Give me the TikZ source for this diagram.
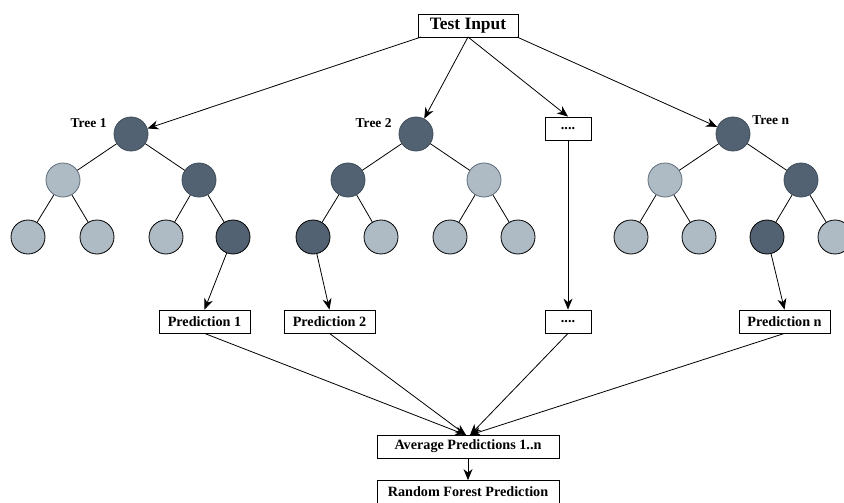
\documentclass[tikz,border=0pt]{standalone}
\usepackage{fontspec}
\setmainfont{Liberation Serif}
\usetikzlibrary{arrows.meta}
\definecolor{darkn}{HTML}{526272}
\definecolor{lightn}{HTML}{AEBAC4}
\definecolor{edgeup}{HTML}{3E4C59}
\begin{document}
\begin{tikzpicture}[x=1pt,y=-1pt,
  every path/.style={line width=0.8pt},
  tip/.style={-{Stealth[length=11pt,width=9pt,inset=3.5pt]}},
  nd/.style={circle,minimum size=34pt,inner sep=0pt,line width=0.8pt},
  darkup/.style={nd,fill=darkn,draw=edgeup},
  lightup/.style={nd,fill=lightn,draw=edgeup!70!lightn},
  darklow/.style={nd,fill=darkn,draw=black},
  lightlow/.style={nd,fill=lightn,draw=black},
  box/.style={draw,fill=white,inner sep=0pt,minimum height=23pt,font=\bfseries\fontsize{14.2}{16}\selectfont},
  lbl/.style={inner sep=0pt,font=\bfseries\fontsize{13.5}{15}\selectfont}]
\useasboundingbox (0,0) rectangle (844,503);

% input
\node[box,minimum width=100pt,font=\bfseries\fontsize{17.4}{19}\selectfont] (in) at (468,25.5) {Test Input};

% Tree 1
\node[darkup] (a0) at (131,134) {};
\node[lightup] (a1) at (63,180) {};
\node[darkup] (a2) at (199,180) {};
\node[lightlow] (a3) at (28,237) {};
\node[lightlow] (a4) at (97,237) {};
\node[lightlow] (a5) at (166,237) {};
\node[darklow] (a6) at (233,237) {};
\draw (a0)--(a1) (a0)--(a2) (a1)--(a3) (a1)--(a4) (a2)--(a5) (a2)--(a6);
\node[lbl,anchor=east] (la) at (107,123) {Tree 1};

% Tree 2
\node[darkup] (b0) at (416,134) {};
\node[darkup] (b1) at (348,180) {};
\node[lightup] (b2) at (484,180) {};
\node[darklow] (b3) at (313,237) {};
\node[lightlow] (b4) at (381,237) {};
\node[lightlow] (b5) at (450,237) {};
\node[lightlow] (b6) at (518,237) {};
\draw (b0)--(b1) (b0)--(b2) (b1)--(b3) (b1)--(b4) (b2)--(b5) (b2)--(b6);
\node[lbl,anchor=east] (lb) at (392,123) {Tree 2};

% dots column
\node[box,minimum width=46pt] (d1) at (568,128.5) {....};

% Tree n
\node[darkup] (c0) at (733,134) {};
\node[lightup] (c1) at (665,180) {};
\node[darkup] (c2) at (801,180) {};
\node[lightlow] (c3) at (631,237) {};
\node[lightlow] (c4) at (699,237) {};
\node[darklow] (c5) at (767,237) {};
\node[lightlow] (c6) at (835,237) {};
\draw (c0)--(c1) (c0)--(c2) (c1)--(c3) (c1)--(c4) (c2)--(c5) (c2)--(c6);
\node[lbl,anchor=west] (lc) at (752,120) {Tree n};

% predictions
\node[box,minimum width=91pt] (p1) at (204.5,321.5) {Prediction 1};
\node[box,minimum width=91pt] (p2) at (329.5,321.5) {Prediction 2};
\node[box,minimum width=46pt] (d2) at (568,321.5) {....};
\node[box,minimum width=91pt] (pn) at (784.5,321.5) {Prediction n};

\node[box,minimum width=182pt] (avg) at (468,446.5) {Average Predictions 1..n};
\node[box,minimum width=182pt] (rf) at (468,492) {Random Forest Prediction};

\coordinate (in1) at (421,37);
\coordinate (in2) at (468,37);
\coordinate (in3) at (517,37);
\draw[tip] (in1) -- (a0);
\draw[tip] (in2) -- (b0);
\draw[tip] (in2) -- (d1.north);
\draw[tip] (in3) -- (c0);

\draw[tip] (a6) -- (p1.north);
\draw[tip] (b3) -- (p2.north);
\draw[tip] (d1.south) -- (d2.north);
\draw[tip] (c5) -- (pn.north);

\coordinate (t1) at (466,435);
\coordinate (t2) at (470,435);
\draw[tip] (p1.south) -- (t1);
\draw[tip] (p2.south) -- (t1);
\draw[tip] (d2.south) -- (t2);
\draw[tip] (pn.south) -- (t2);
\draw[tip] (avg) -- (rf);
\end{tikzpicture}
\end{document}
